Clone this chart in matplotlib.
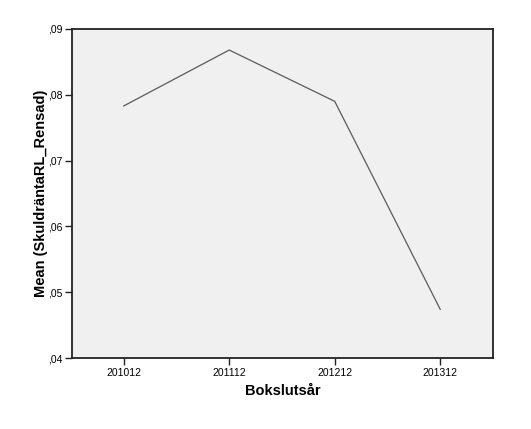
import matplotlib.pyplot as plt
import numpy as np

# Data
years = ['201012', '201112', '201212', '201312']
mean_rate = [0.0783, 0.0868, 0.0790, 0.0474]

plt.rcParams['font.family'] = ['Liberation Sans', 'DejaVu Sans']

fig = plt.figure(figsize=(5.31, 4.29), dpi=100)
ax = fig.add_axes([0.1356, 0.1655, 0.7928, 0.767])
ax.set_facecolor('#F0F0F0')

x = np.arange(len(years))
ax.plot(x, mean_rate, color='#5a5a5a', linewidth=0.9)

ax.set_xlim(-0.49, 3.5)
ax.set_ylim(0.04, 0.09)
ax.set_xticks(x)
ax.set_xticklabels(years)
ax.set_yticks(np.arange(0.04, 0.0901, 0.01))
ax.yaxis.set_major_formatter(plt.FuncFormatter(lambda v, _: ('%.2f' % v).lstrip('0').replace('.', ',')))
ax.tick_params(axis='both', labelsize=7.5, length=5, width=1, color='#222222', direction='out', pad=2)

for s in ax.spines.values():
    s.set_linewidth(1.3)
    s.set_color('#222222')

ax.set_xlabel('Bokslutsår', fontsize=10.5, fontweight='bold', labelpad=4.5)
ax.set_ylabel('Mean (SkuldräntaRL_Rensad)', fontsize=10.5, fontweight='bold', labelpad=0)

fig.savefig('out.png', dpi=100)
